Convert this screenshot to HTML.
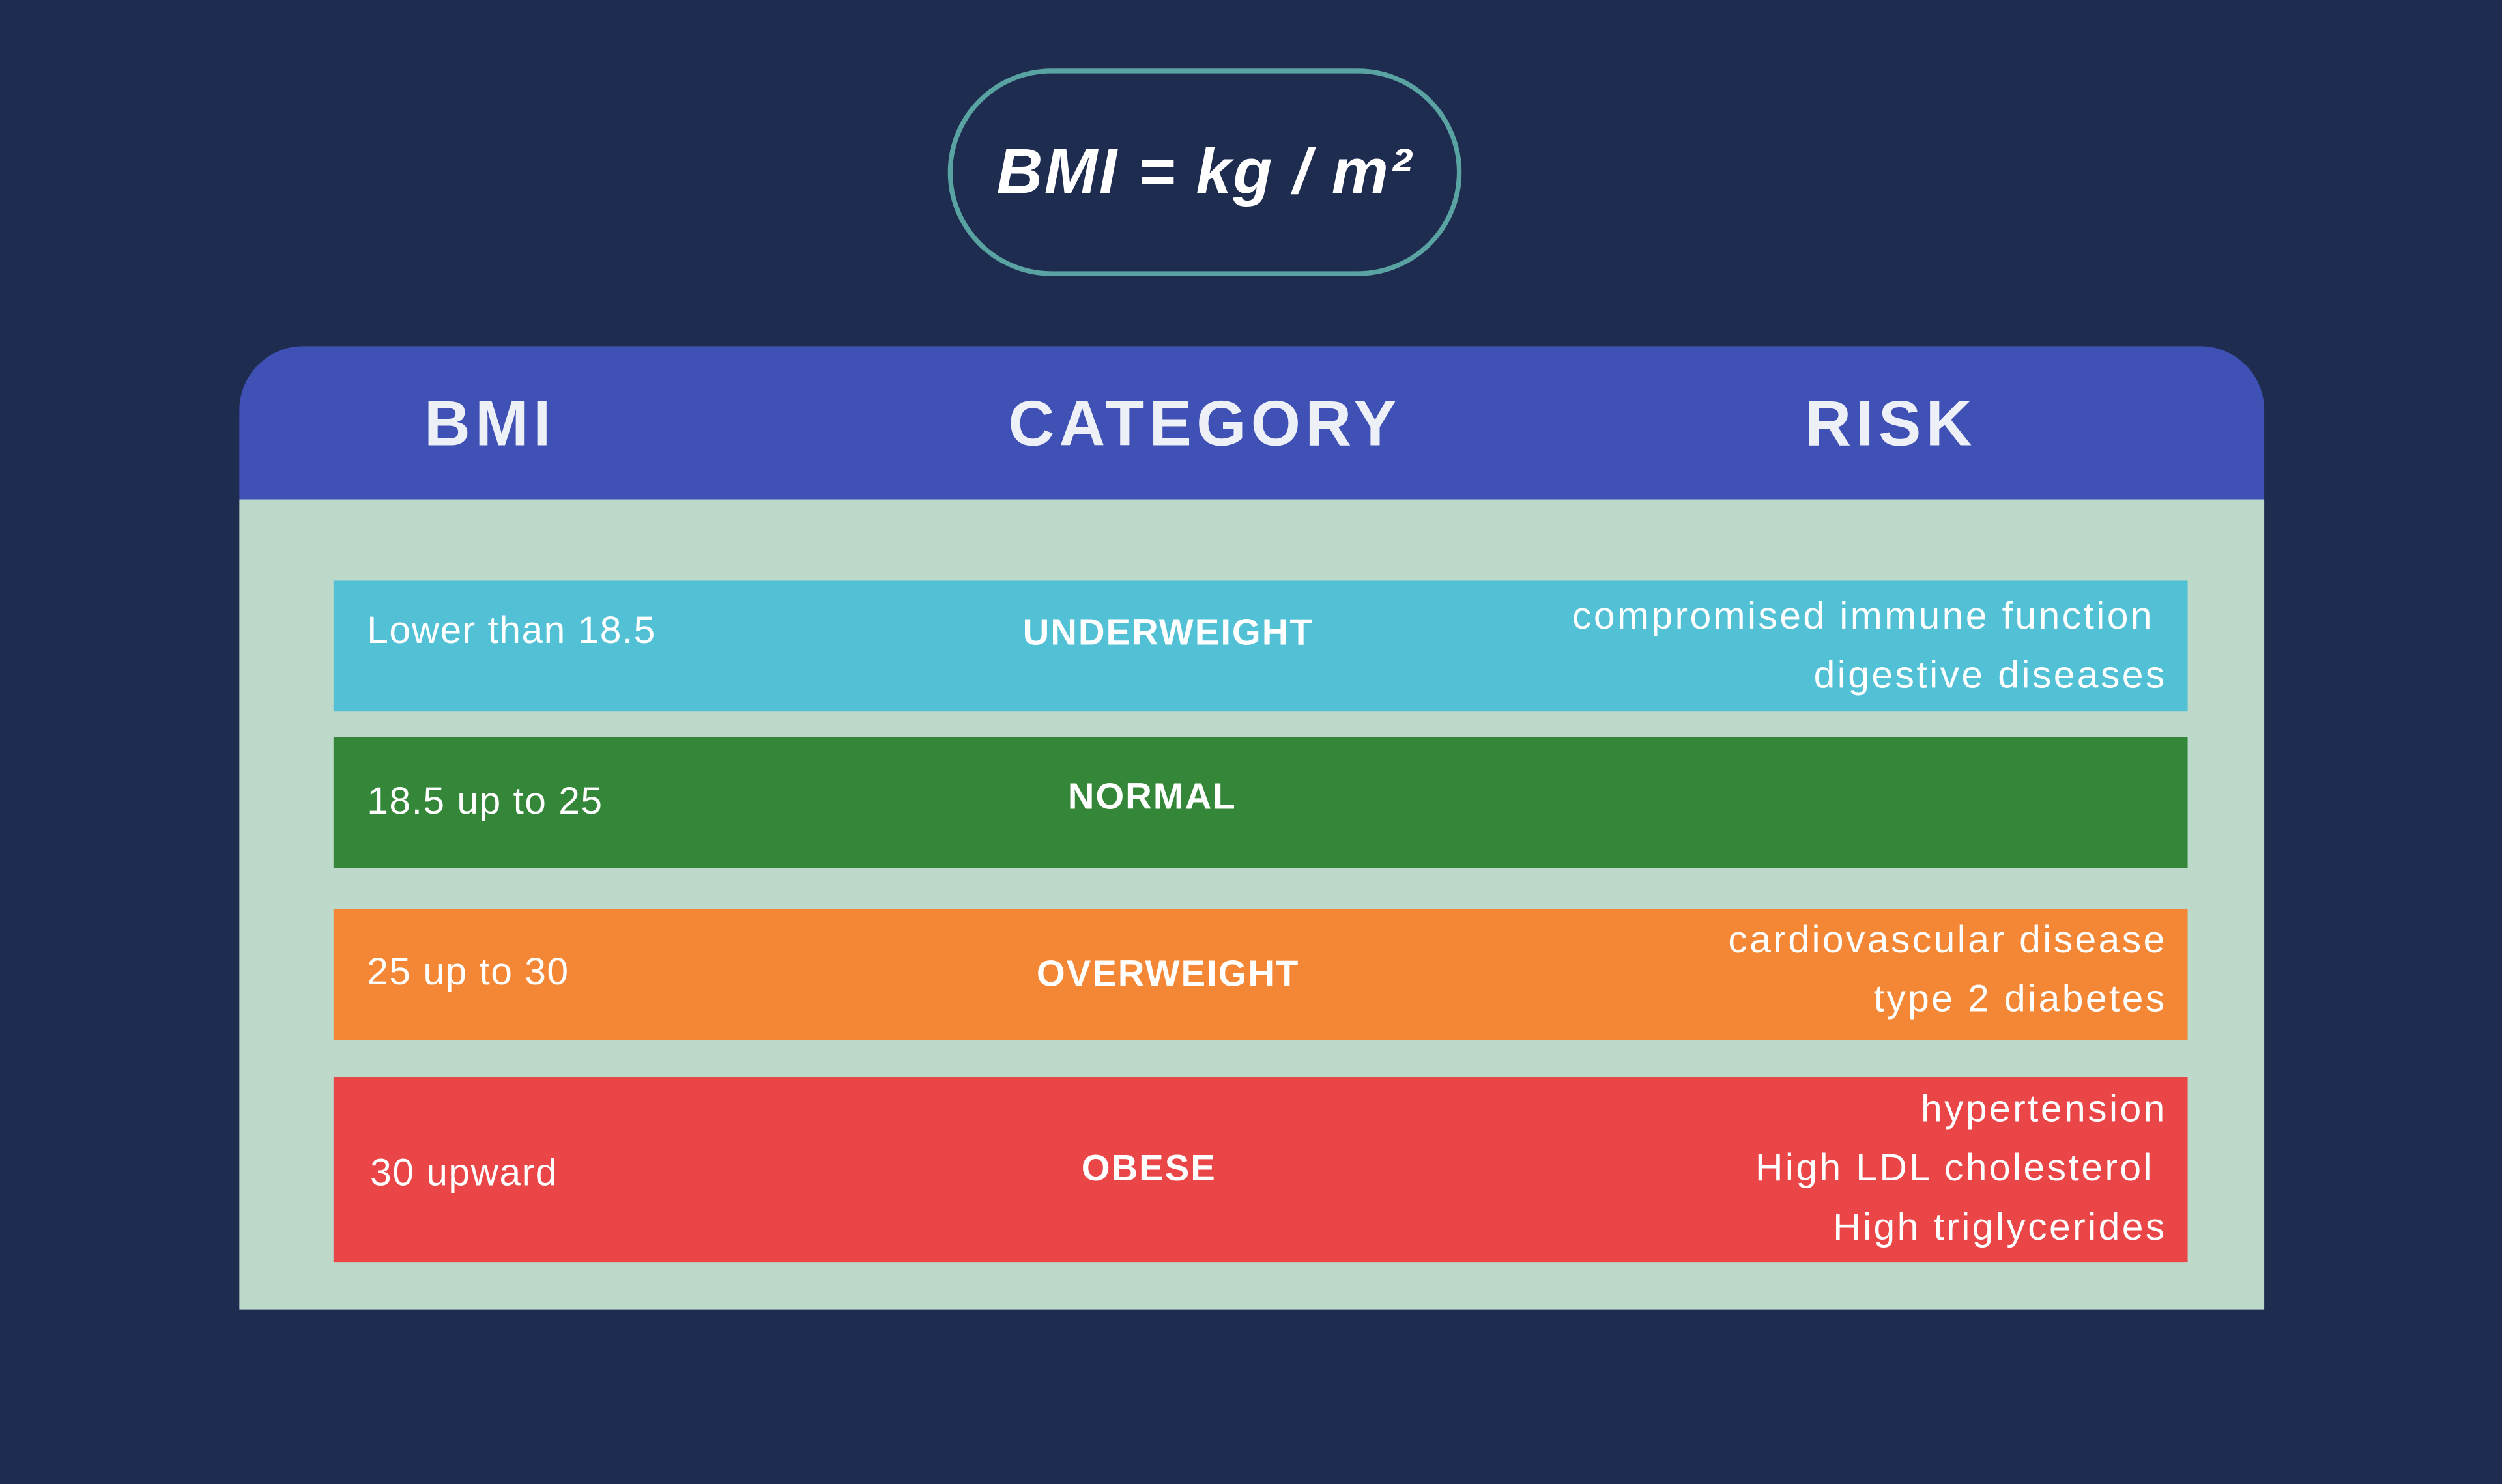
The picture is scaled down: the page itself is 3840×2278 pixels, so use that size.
<!DOCTYPE html>
<html><head><meta charset="utf-8">
<style>
html,body{margin:0;padding:0;background:#1e2c4f;overflow:hidden}
#root{position:absolute;left:0;top:0;width:1568px;height:930px;transform:scale(2.44898);transform-origin:0 0;font-family:"Liberation Sans","DejaVu Sans",sans-serif;color:#fff}
.abs{position:absolute}
.pill{left:594px;top:43px;width:316px;height:124px;border:3px solid #5aa3a3;border-radius:70px;display:flex;align-items:center;justify-content:center;font-weight:bold;font-style:italic;font-size:40px;letter-spacing:1px}
.head{left:150px;top:217px;width:1269px;height:96px;background:#4051b5;border-radius:40px 40px 0 0}
.h{top:244px;font-size:40px;font-weight:bold;letter-spacing:3px;color:#eef0f8;transform:translateX(-50%)}
.body{left:150px;top:313px;width:1269px;height:508px;background:#bdd9c9}
.row{left:209px;width:1162px}
.t{font-size:24px;line-height:36px;letter-spacing:0.6px}
.c{font-size:23px;font-weight:bold;transform:translateX(-50%);letter-spacing:0.8px}
.r{right:210px;text-align:right;font-size:24px;line-height:37px;letter-spacing:1.4px}
</style></head><body>
<div id="root">
<div class="abs pill">BMI = kg / m²</div>
<div class="abs head"></div>
<div class="abs h" style="left:307px">BMI</div>
<div class="abs h" style="left:755px">CATEGORY</div>
<div class="abs h" style="left:1185px">RISK</div>
<div class="abs body"></div>

<div class="abs row" style="top:364px;height:82px;background:#52c1d6"></div>
<div class="abs t" style="left:230px;top:378px">Lower than 18.5</div>
<div class="abs c" style="left:732px;top:383px">UNDERWEIGHT</div>
<div class="abs r" style="top:368px">compromised immune function&nbsp;<br>digestive diseases</div>

<div class="abs row" style="top:462px;height:82px;background:#348739"></div>
<div class="abs t" style="left:230px;top:485px">18.5 up to 25</div>
<div class="abs c" style="left:722px;top:486px">NORMAL</div>

<div class="abs row" style="top:570px;height:82px;background:#f48735"></div>
<div class="abs t" style="left:230px;top:592px">25 up to 30</div>
<div class="abs c" style="left:732px;top:597px">OVERWEIGHT</div>
<div class="abs r" style="top:571px">cardiovascular disease<br>type 2 diabetes</div>

<div class="abs row" style="top:675px;height:116px;background:#ea4647"></div>
<div class="abs t" style="left:232px;top:718px">30 upward</div>
<div class="abs c" style="left:720px;top:719px">OBESE</div>
<div class="abs r" style="top:677px">hypertension<br>High LDL cholesterol&nbsp;<br>High triglycerides</div>
</div>
</body></html>
